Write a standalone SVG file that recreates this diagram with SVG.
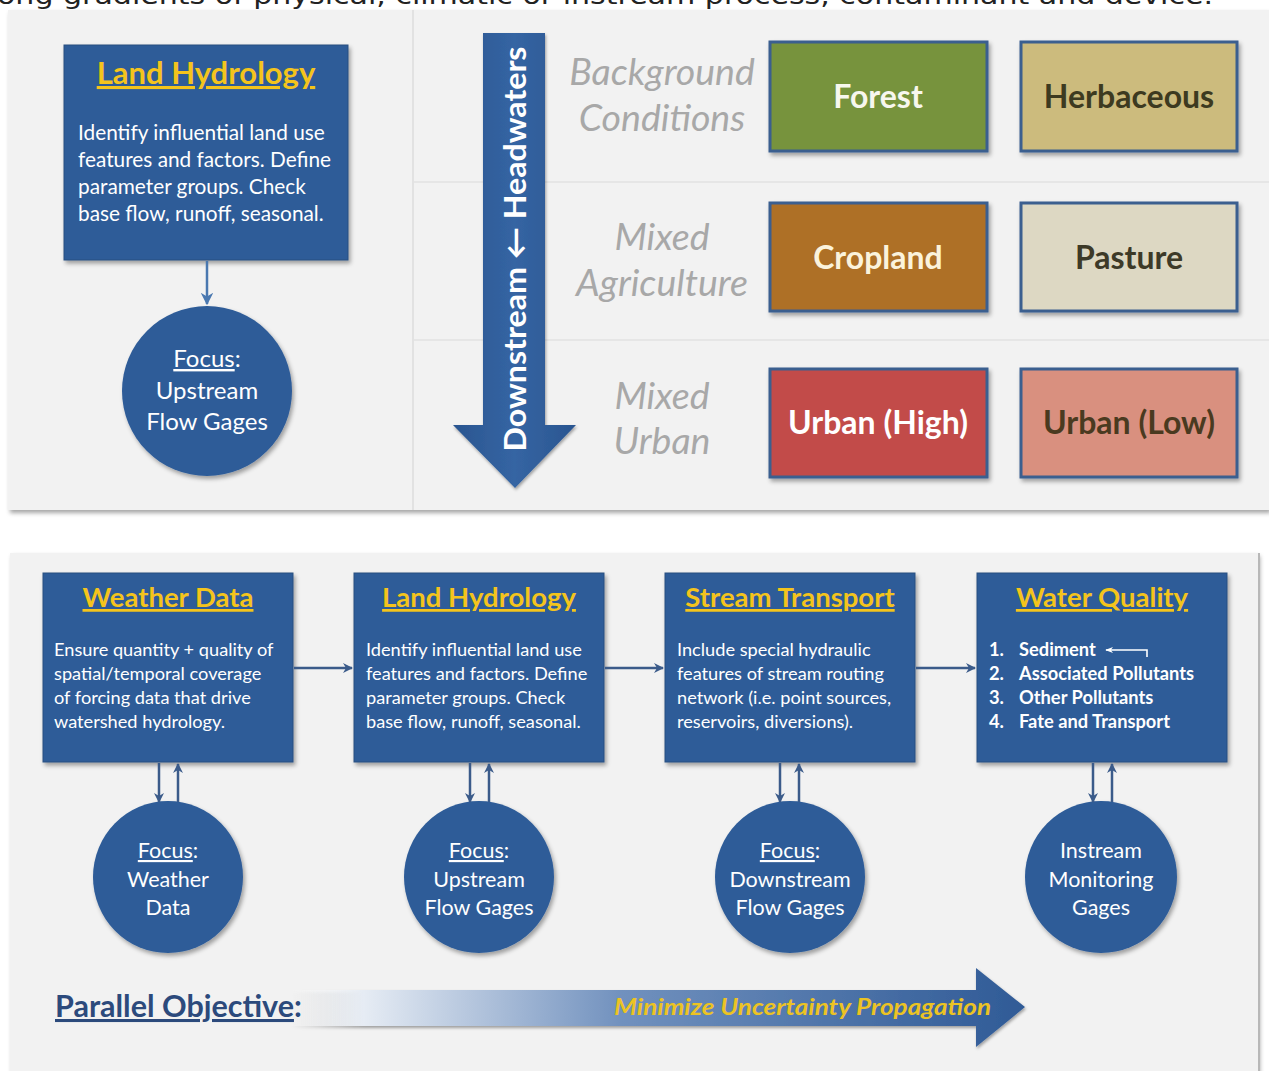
<svg xmlns="http://www.w3.org/2000/svg" width="1269" height="1071" viewBox="0 0 1269 1071">
<style>
.box{fill:#2e5c98;stroke:#294f80;stroke-width:1}
.circ{fill:#2e5c98}
.ttl{font-family:Lato,"Open Sans",sans-serif;font-weight:bold;fill:#f4c41c;text-decoration:underline;text-anchor:middle}
.body{font-family:Lato,"Open Sans",sans-serif;fill:#ffffff}
.ctext{font-family:Lato,"Open Sans",sans-serif;fill:#ffffff;text-anchor:middle}
.gray{font-family:Lato,"Open Sans",sans-serif;font-style:italic;fill:#a8a8a8;font-size:37.5px;text-anchor:middle}
.lu{stroke:#3a5f8f;stroke-width:3}
.lut{font-family:Lato,"Open Sans",sans-serif;font-weight:bold;font-size:32px;text-anchor:middle}
.con{stroke:#3b5b8a;stroke-width:2.5;fill:none}
</style>
<defs>
<filter id="sh" x="-10%" y="-10%" width="125%" height="125%">
<feDropShadow dx="2" dy="3" stdDeviation="2" flood-color="#000" flood-opacity="0.35"/>
</filter>
<filter id="shs" x="-10%" y="-10%" width="125%" height="125%">
<feDropShadow dx="1" dy="2" stdDeviation="1.5" flood-color="#000" flood-opacity="0.35"/>
</filter>
<marker id="ah" viewBox="0 0 10 10" refX="9" refY="5" markerWidth="4" markerHeight="4" orient="auto" markerUnits="strokeWidth">
<path d="M0,0 L10,5 L0,10 L3,5 Z" fill="#3b5b8a"/>
</marker>
<marker id="ah2" viewBox="0 0 10 10" refX="9" refY="5" markerWidth="5" markerHeight="5" orient="auto" markerUnits="strokeWidth">
<path d="M0,0 L10,5 L0,10 L3,5 Z" fill="#4a78b0"/>
</marker>
<marker id="ahw" viewBox="0 0 10 10" refX="9" refY="5" markerWidth="5" markerHeight="5" orient="auto" markerUnits="strokeWidth">
<path d="M0,1 L10,5 L0,9 L3,5 Z" fill="#ffffff"/>
</marker>
<linearGradient id="band" gradientUnits="userSpaceOnUse" x1="290" y1="0" x2="1025" y2="0">
<stop offset="0" stop-color="#ffffff" stop-opacity="0"/>
<stop offset="0.1" stop-color="#e6ecf4"/>
<stop offset="0.45" stop-color="#7191be"/>
<stop offset="1" stop-color="#2f5a96"/>
</linearGradient>
<linearGradient id="darr" x1="0" y1="0" x2="1" y2="0">
<stop offset="0" stop-color="#2a5590"/>
<stop offset="0.5" stop-color="#3565a3"/>
<stop offset="1" stop-color="#2a5590"/>
</linearGradient>
</defs>

<rect width="1269" height="1071" fill="#ffffff"/>
<text x="-3" y="4" font-family="DejaVu Sans, sans-serif" font-size="25" fill="#222" textLength="1216" lengthAdjust="spacingAndGlyphs">ong gradients of physical, climatic or instream process, contaminant and device.</text>

<!-- top panel -->
<g id="top-panel">
<rect x="8" y="10" width="1261" height="500" fill="#f2f2f2" filter="url(#sh)"/>
<line x1="413" y1="10" x2="413" y2="510" stroke="#dcdcdc" stroke-width="1.5"/>
<line x1="413" y1="182" x2="1269" y2="182" stroke="#e2e2e2" stroke-width="1.5"/>
<line x1="413" y1="340" x2="1269" y2="340" stroke="#e2e2e2" stroke-width="1.5"/>
</g>

<!-- bottom panel -->
<g id="bottom-panel">
<rect x="10" y="553" width="1248" height="530" fill="#f2f2f2" filter="url(#sh)"/>
<line x1="1259" y1="553" x2="1259" y2="1071" stroke="#b8b8b8" stroke-width="2"/>
</g>

<!-- top land hydrology -->
<g id="top-land-hydrology">
<rect class="box" x="64" y="45" width="284" height="215" filter="url(#sh)"/>
<text class="ttl" x="206" y="84" font-size="31">Land Hydrology</text>
<text class="body" font-size="20.8"><tspan x="78" y="140">Identify influential land use</tspan><tspan x="78" y="167">features and factors. Define</tspan><tspan x="78" y="194">parameter groups. Check</tspan><tspan x="78" y="221">base flow, runoff, seasonal.</tspan></text>
</g>
<g id="top-focus-upstream">
<circle class="circ" cx="207" cy="391" r="85" filter="url(#sh)"/>
<text class="ctext" font-size="24"><tspan x="207" y="367"><tspan text-decoration="underline">Focus</tspan>:</tspan><tspan x="207" y="399">Upstream</tspan><tspan x="207" y="430">Flow Gages</tspan></text>
</g>

<!-- downstream arrow -->
<g id="downstream-arrow">
<polygon points="483,33 545,33 545,425 576,425 515,488 453,425 483,425" fill="url(#darr)" filter="url(#shs)"/>
<text transform="translate(515,249) rotate(-90)" x="0" y="11" font-family="Lato, 'Open Sans', sans-serif" font-weight="bold" font-size="30" fill="#ffffff" text-anchor="middle" textLength="405" lengthAdjust="spacingAndGlyphs">Downstream ← Headwaters</text>
</g>

<g id="row-labels">
<text class="gray"><tspan x="662" y="85">Background</tspan><tspan x="662" y="131">Conditions</tspan></text>
<text class="gray"><tspan x="662" y="250">Mixed</tspan><tspan x="662" y="296">Agriculture</tspan></text>
<text class="gray"><tspan x="662" y="409">Mixed</tspan><tspan x="662" y="454">Urban</tspan></text>
</g>

<g id="forest"><rect class="lu" x="770" y="42" width="217" height="109" fill="#77933c" filter="url(#sh)"/><text class="lut" x="878" y="108" fill="#f7f7ee">Forest</text></g>
<g id="herbaceous"><rect class="lu" x="1021" y="42" width="216" height="109" fill="#ccbb7d" filter="url(#sh)"/><text class="lut" x="1129" y="108" fill="#3d3a20">Herbaceous</text></g>
<g id="cropland"><rect class="lu" x="770" y="203" width="217" height="108" fill="#ae6f28" filter="url(#sh)"/><text class="lut" x="878" y="269" fill="#fbf3dc">Cropland</text></g>
<g id="pasture"><rect class="lu" x="1021" y="203" width="216" height="108" fill="#ddd8c3" filter="url(#sh)"/><text class="lut" x="1129" y="269" fill="#3d3a28">Pasture</text></g>
<g id="urban-high"><rect class="lu" x="770" y="369" width="217" height="108" fill="#c24b48" filter="url(#sh)"/><text class="lut" x="878" y="434" fill="#ffffff">Urban (High)</text></g>
<g id="urban-low"><rect class="lu" x="1021" y="369" width="216" height="108" fill="#d9907f" filter="url(#sh)"/><text class="lut" x="1129" y="434" fill="#4a3a20">Urban (Low)</text></g>

<!-- bottom boxes -->
<g id="weather-data">
<rect class="box" x="43" y="573" width="250" height="189" filter="url(#sh)"/>
<text class="ttl" x="168" y="607" font-size="27.5">Weather Data</text>
<text class="body" font-size="18.2"><tspan x="54" y="656">Ensure quantity + quality of</tspan><tspan x="54" y="680">spatial/temporal coverage</tspan><tspan x="54" y="704">of forcing data that drive</tspan><tspan x="54" y="728">watershed hydrology.</tspan></text>
</g>
<g id="land-hydrology">
<rect class="box" x="354" y="573" width="250" height="189" filter="url(#sh)"/>
<text class="ttl" x="479" y="607" font-size="27.5">Land Hydrology</text>
<text class="body" font-size="18.2"><tspan x="366" y="656">Identify influential land use</tspan><tspan x="366" y="680">features and factors. Define</tspan><tspan x="366" y="704">parameter groups. Check</tspan><tspan x="366" y="728">base flow, runoff, seasonal.</tspan></text>
</g>
<g id="stream-transport">
<rect class="box" x="665" y="573" width="250" height="189" filter="url(#sh)"/>
<text class="ttl" x="790" y="607" font-size="27.5">Stream Transport</text>
<text class="body" font-size="18.2"><tspan x="677" y="656">Include special hydraulic</tspan><tspan x="677" y="680">features of stream routing</tspan><tspan x="677" y="704">network (i.e. point sources,</tspan><tspan x="677" y="728">reservoirs, diversions).</tspan></text>
</g>
<g id="water-quality">
<rect class="box" x="977" y="573" width="250" height="189" filter="url(#sh)"/>
<text class="ttl" x="1102" y="607" font-size="27.5">Water Quality</text>
<text class="body" font-size="18.3" font-weight="bold"><tspan x="989" y="656">1.</tspan><tspan x="1019" y="656">Sediment</tspan><tspan x="989" y="680">2.</tspan><tspan x="1019" y="680">Associated Pollutants</tspan><tspan x="989" y="704">3.</tspan><tspan x="1019" y="704">Other Pollutants</tspan><tspan x="989" y="728">4.</tspan><tspan x="1019" y="728">Fate and Transport</tspan></text>
<path d="M1147,657 L1147,650 L1106,650" stroke="#ffffff" stroke-width="1.6" fill="none" marker-end="url(#ahw)"/>
</g>

<!-- bottom circles -->
<g id="focus-weather">
<ellipse class="circ" cx="168" cy="877" rx="75" ry="76" filter="url(#sh)"/>
<text class="ctext" font-size="21.5"><tspan x="168" y="858"><tspan text-decoration="underline">Focus</tspan>:</tspan><tspan x="168" y="887">Weather</tspan><tspan x="168" y="915">Data</tspan></text>
</g>
<g id="focus-upstream">
<ellipse class="circ" cx="479" cy="877" rx="75" ry="76" filter="url(#sh)"/>
<text class="ctext" font-size="21.5"><tspan x="479" y="858"><tspan text-decoration="underline">Focus</tspan>:</tspan><tspan x="479" y="887">Upstream</tspan><tspan x="479" y="915">Flow Gages</tspan></text>
</g>
<g id="focus-downstream">
<ellipse class="circ" cx="790" cy="877" rx="75" ry="76" filter="url(#sh)"/>
<text class="ctext" font-size="21.5"><tspan x="790" y="858"><tspan text-decoration="underline">Focus</tspan>:</tspan><tspan x="790" y="887">Downstream</tspan><tspan x="790" y="915">Flow Gages</tspan></text>
</g>
<g id="instream-gages">
<ellipse class="circ" cx="1101" cy="877" rx="76" ry="76" filter="url(#sh)"/>
<text class="ctext" font-size="21.5"><tspan x="1101" y="858">Instream</tspan><tspan x="1101" y="887">Monitoring</tspan><tspan x="1101" y="915">Gages</tspan></text>
</g>

<!-- connectors -->
<g id="connectors">
<line x1="207" y1="261" x2="207" y2="304" stroke="#4a78b0" stroke-width="2.5" marker-end="url(#ah2)"/>
<line class="con" x1="294" y1="668" x2="352" y2="668" marker-end="url(#ah)"/>
<line class="con" x1="605" y1="668" x2="663" y2="668" marker-end="url(#ah)"/>
<line class="con" x1="916" y1="668" x2="975" y2="668" marker-end="url(#ah)"/>
<line class="con" x1="159" y1="763" x2="159" y2="802" marker-end="url(#ah)"/>
<line class="con" x1="178" y1="802" x2="178" y2="764" marker-end="url(#ah)"/>
<line class="con" x1="470" y1="763" x2="470" y2="802" marker-end="url(#ah)"/>
<line class="con" x1="489" y1="802" x2="489" y2="764" marker-end="url(#ah)"/>
<line class="con" x1="780" y1="763" x2="780" y2="802" marker-end="url(#ah)"/>
<line class="con" x1="799" y1="802" x2="799" y2="764" marker-end="url(#ah)"/>
<line class="con" x1="1093" y1="763" x2="1093" y2="802" marker-end="url(#ah)"/>
<line class="con" x1="1112" y1="802" x2="1112" y2="764" marker-end="url(#ah)"/>
</g>

<!-- parallel objective -->
<g id="parallel-objective">
<polygon points="290,990 976,990 976,968 1025,1007 976,1047 976,1026 290,1026" fill="url(#band)" filter="url(#shs)"/>
<text x="55" y="1017" font-family="Lato, 'Open Sans', sans-serif" font-weight="bold" font-size="30.5" fill="#2c4a7c"><tspan text-decoration="underline">Parallel Objective</tspan>:</text>
<text x="614" y="1015" font-family="Lato, 'Open Sans', sans-serif" font-weight="bold" font-style="italic" font-size="23.5" fill="#ecc323" textLength="377" lengthAdjust="spacingAndGlyphs">Minimize Uncertainty Propagation</text>
</g>
</svg>
